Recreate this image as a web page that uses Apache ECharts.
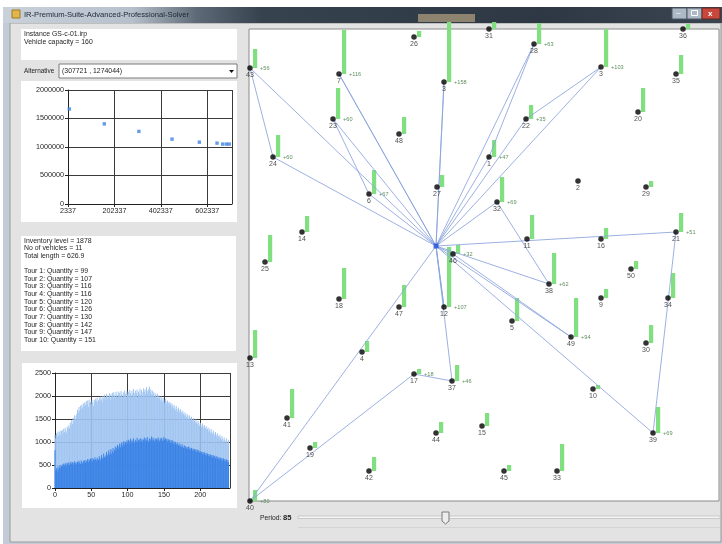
<!DOCTYPE html>
<html><head><meta charset="utf-8">
<script src="https://cdn.jsdelivr.net/npm/echarts@6/dist/echarts.min.js"></script>
<style>html,body{margin:0;padding:0;background:#fff;}#c{width:722px;height:544px;}</style>
</head><body><div id="c"></div>
<script>
// ---------- data ----------
const paretoX = [8000, 158800, 307721, 450600, 568300, 644500, 669000, 685000, 697000];
const paretoY = [1667000, 1406000, 1274044, 1138000, 1085000, 1068000, 1051000, 1051000, 1051000];

const histLight = [
1150,1080,1190,1120,1230,1160,1210,1250,1140,1240,
1260,1180,1290,1220,1310,1250,1200,1330,1280,1360,
1300,1420,1350,1480,1390,1520,1440,1580,1500,1560,
1610,1700,1640,1760,1680,1790,1720,1810,1750,1840,
1780,1860,1800,1890,1830,1900,1760,1920,1850,1880,
1820,1900,1850,1780,1920,1870,1940,1890,1960,1840,
1910,1970,1880,1990,1930,1860,2000,1950,2030,1910,
1980,2050,1940,2010,1970,2060,1920,2040,1990,2070,
1950,2080,2010,1960,2090,2030,1980,2100,2020,2070,
1990,2110,2040,1970,2080,2010,2120,2050,1980,2100,
2030,2090,2000,2130,2060,1990,2110,2040,2150,2070,
2010,2120,2060,2140,1980,2100,2050,2160,2020,2130,
2080,2000,2170,2090,2140,2030,2190,2110,2060,2150,
2200,2090,2140,2040,2120,2010,2080,1990,2060,2020,
1970,2050,1940,2010,1960,1900,1990,1930,1870,1960,
1910,1850,1940,1880,1820,1900,1860,1790,1870,1830,
1760,1840,1790,1730,1810,1750,1690,1780,1720,1660,
1750,1690,1630,1710,1650,1600,1680,1620,1570,1640,
1590,1530,1610,1560,1500,1580,1520,1470,1550,1490,
1440,1520,1460,1410,1490,1430,1380,1460,1400,1350,
1420,1370,1320,1400,1340,1290,1370,1310,1260,1340,
1280,1230,1310,1250,1200,1280,1220,1170,1250,1190,
1140,1220,1160,1110,1190,1130,1080,1160,1100,1050,
1130,1070,1020,1100,1040,990,1080,1010,960,1050];
const histDark = [
820,380,430,360,470,410,450,500,440,480,
510,470,530,490,520,550,480,540,510,560,
500,540,570,520,560,490,550,580,530,560,
510,570,540,590,550,520,600,560,530,590,
570,610,550,600,580,630,560,620,590,640,
600,650,580,630,610,670,620,590,660,630,
610,690,640,600,720,660,630,750,680,650,
710,780,690,740,820,720,770,850,740,800,
870,760,830,900,810,880,940,850,910,970,
880,950,1000,910,980,1020,940,1000,960,1030,
990,1050,960,1020,1070,980,1040,1000,1080,1010,
970,1050,1010,1090,990,1040,1060,1000,1080,1020,
1060,990,1050,1100,1010,1070,1030,1110,1040,1000,
1080,1020,1060,1120,1030,1090,1050,1010,1080,1040,
1070,1030,1100,1050,1010,1080,1040,1090,1020,1060,
1110,1040,1080,1030,1070,1010,1060,1020,1050,990,
1040,980,1030,970,1010,950,1000,960,930,990,
940,910,970,920,890,950,900,870,930,880,
910,860,890,850,900,840,880,830,870,820,
860,810,850,800,840,790,830,780,820,770,
800,760,790,740,780,730,770,720,760,710,
750,700,740,690,730,680,720,670,710,660,
700,650,690,640,680,630,670,620,660,610,
650,600,640,590,630,580,620,570,610,560];

// map customers (key, x, y in map units; stock bar height; delivered quantity)
const customerKeys  = ['43','7','26','3a','23','48','24','31','28','36','35','20','22','1','3b','6','27','14','25','18','47','12','46','4','13','2','29','32','11','16','21','50','38','9','34','5','49','30','17','37','41','44','15','19','42','40','10','39','45','33'];
const customerX     = [1,90,165,195,84,150,24,240,285,434,427,389,277,240,352,120,188,53,16,90,150,195,204,113,1,329,397,248,278,352,427,382,300,352,419,263,322,397,165,203,38,187,233,61,120,1,344,404,255,308];
const customerY     = [39,45,8,53,90,105,128,0,15,0,45,83,90,128,38,165,158,203,233,270,278,278,225,323,329,152,158,173,210,210,203,240,255,269,269,292,308,314,345,352,389,404,397,419,442,472,360,404,442,442];
const customerStock = [19,44,6,60,31,17,22,7,21,5,19,24,14,17,38,24,12,16,27,31,22,60,9,11,28,0,6,25,24,11,19,8,31,9,25,23,39,18,5,16,29,11,13,6,14,11,4,26,6,27];
const customerDelivery = [56,116,0,158,60,0,60,0,63,0,0,0,35,47,103,67,0,0,0,0,0,107,32,0,0,0,0,69,0,0,51,0,62,0,0,0,94,0,18,46,0,0,0,0,0,80,0,69,0,0];
const depotXY = [187, 217];
const tours = [['43','24'],['7'],['23','6'],['3a'],['28','1'],['3b','22'],['32','38'],['21','39'],['46','49'],['12'],['37','17','40']];

const headerLines = ['Instance GS-c-01.irp', 'Vehicle capacity = 160'];
const alternativeText = '(307721 , 1274044)';
const infoLines = ['Inventory level = 1878', 'No of vehicles = 11', 'Total length = 626.9'];
const tourQuantities = [99,107,116,116,120,126,130,142,147,151];
const periodValue = 85;

// ---------- drawing ----------
const F = '"Liberation Sans", Arial, sans-serif';
const chart = echarts.init(document.getElementById('c'), null, {width:722, height:544});

function R(x,y,w,h,fill,stroke,z,lw){return {type:'rect',shape:{x,y,width:w,height:h},style:{fill,stroke:stroke||null,lineWidth:stroke?(lw||1):0},z:(z===undefined?-10:z),silent:true};}
function T(x,y,text,o){return {type:'text',x,y,z:20,silent:true,style:Object.assign({text,fill:'#1e1e1e',fontSize:7.2,fontFamily:F,verticalAlign:'middle',align:'left'},o||{})};}

const G = [];
// window frame
G.push(R(3,7,719,537,'#c3ccd6',null,-20));
G.push(R(10,23,711,519,'#e3e3e3','#9a9a9a',-19));
// title bar
G.push(R(3,7,719,16,{type:'linear',x:0,y:0,x2:1,y2:0,colorStops:[{offset:0,color:'#c9d1da'},{offset:0.18,color:'#b6c0cc'},{offset:0.27,color:'#5d6976'},{offset:0.36,color:'#36424e'},{offset:0.75,color:'#2d3844'},{offset:1,color:'#3a4551'}]},null,-18));
G.push(R(418,14,57,8,'#8d836f',null,-17));
G.push(R(12,10,8,8,'#e2b64c','#a07a20',-17));
G.push(T(24,15,'IR-Premium-Suite-Advanced-Professional-Solver',{fill:'#1b2633',fontSize:7.6}));
G.push(R(672,8,15,11,'#aeb9c6','#4d5966',-16));
G.push(R(687,8,15,11,'#aeb9c6','#4d5966',-16));
G.push(R(702,8,18,11,'#c8463b','#5a2a26',-16));
G.push(T(676,13,'–',{fill:'#fff',fontSize:8}));
G.push(R(691.5,10.5,6,5,null,'#ffffff',-15));
G.push(T(708,13.5,'x',{fill:'#fff',fontSize:8,fontWeight:'bold'}));
// left panels
G.push(R(21,29,216,31,'#ffffff'));
headerLines.forEach((s,i)=>G.push(T(24,34.5+i*8,s,{fontSize:6.9})));
G.push(T(24,71,'Alternative',{fontSize:6.4}));
G.push(R(59,64,178,14,'#ffffff','#7d7d7d'));
G.push(T(62,71,alternativeText,{fontSize:6.9}));
G.push({type:'polygon',z:20,silent:true,shape:{points:[[229,70],[234,70],[231.5,73]]},style:{fill:'#111'}});
G.push(R(21,81,216,141,'#ffffff'));
G.push(R(21,236,215,115,'#ffffff'));
infoLines.forEach((s,i)=>G.push(T(24,241+i*7.5,s,{fontSize:6.9})));
tourQuantities.forEach((q,i)=>G.push(T(24,271+i*7.67,'Tour '+(i+1)+': Quantity = '+q,{fontSize:6.9})));
G.push(R(22,363,215,145,'#ffffff'));
// map background
G.push(R(249,29,470,472,'#ffffff','#8a8a8a'));
// period slider
G.push(T(260,518,'Period:',{fontSize:6.8}));
G.push(T(283,518,String(periodValue),{fontSize:7.6,fontWeight:'bold'}));
G.push(R(298,516,422,2.5,'#f4f4f4','#c9c9c9'));
G.push(R(298,527,422,1,'#d4d4d4'));
G.push({type:'polygon',z:21,silent:true,shape:{points:[[442,512],[449,512],[449,521],[445.5,524],[442,521]]},style:{fill:'#ececec',stroke:'#7a7a7a',lineWidth:1}});

const keyIndex = {}; customerKeys.forEach((k,i)=>keyIndex[k]=i);
const coordOf = k => [customerX[keyIndex[k]], customerY[keyIndex[k]]];

const axisTxt = {fontSize:7.2,color:'#1e1e1e',fontFamily:F,formatter:v=>String(v)};
const darkLine = {lineStyle:{color:'#3a3a3a',width:1}};

const series = [];
// pareto scatter
series.push({type:'scatter',xAxisIndex:0,yAxisIndex:0,symbol:'rect',symbolSize:3.4,itemStyle:{color:'#3f82e3'},data:paretoX.map((x,i)=>[x,paretoY[i]]),silent:true});
// histogram
series.push({type:'bar',xAxisIndex:1,yAxisIndex:1,barWidth:0.45,barGap:'-100%',itemStyle:{color:'#9fc4f1'},data:histLight.map((v,i)=>[i,v]),silent:true,z:2});
series.push({type:'bar',xAxisIndex:1,yAxisIndex:1,barWidth:0.55,barGap:'-100%',itemStyle:{color:'#3a82e6'},data:histDark.map((v,i)=>[i,v]),silent:true,z:3});
// stock bars + delivered labels
series.push({type:'custom',xAxisIndex:2,yAxisIndex:2,clip:false,silent:true,z:3,
  data:customerKeys.map((k,i)=>[customerX[i],customerY[i],customerStock[i],customerDelivery[i]]),
  renderItem:(params,api)=>{
    const x=api.value(0),y=api.value(1),h=api.value(2),d=api.value(3);
    const p=api.coord([x,y]); const t=api.coord([x,y-h]);
    const ch=[];
    if(h>0) ch.push({type:'rect',shape:{x:p[0]+3,y:t[1],width:4.2,height:p[1]-t[1]},style:{fill:'#80e080'}});
    if(d>0) ch.push({type:'text',x:p[0]+10,y:p[1]+0.5,style:{text:'+'+d,fill:'#5d8f5d',fontSize:5.6,fontFamily:F,verticalAlign:'middle'}});
    return {type:'group',children:ch};
  }});
// tours
tours.forEach(t=>{
  series.push({type:'line',xAxisIndex:2,yAxisIndex:2,symbol:'none',silent:true,z:4,
    lineStyle:{color:'#8aa3dd',width:0.85},
    data:[depotXY].concat(t.map(coordOf)).concat([depotXY])});
});
// customers
series.push({type:'scatter',xAxisIndex:2,yAxisIndex:2,symbolSize:5.5,clip:false,silent:true,z:5,
  itemStyle:{color:'#000'},
  label:{show:true,position:'bottom',distance:0.5,formatter:'{b}',fontSize:7,color:'#222',fontFamily:F},
  data:customerKeys.map((k,i)=>({name:k.replace(/[ab]$/,''),value:[customerX[i],customerY[i]]}))});
// depot
series.push({type:'scatter',xAxisIndex:2,yAxisIndex:2,symbol:'rect',symbolSize:5,silent:true,z:6,itemStyle:{color:'#1f4fe0'},data:[depotXY]});

chart.setOption({
  animation:false,
  graphic:G,
  grid:[
    {left:68,top:90,width:164,height:114},
    {left:55,top:373,width:175,height:115},
    {left:249,top:29,width:470,height:472}
  ],
  xAxis:[
    {gridIndex:0,type:'value',min:2337,max:709000,interval:200000,axisLine:{lineStyle:{color:'#222'}},axisTick:{show:true,length:3,lineStyle:{color:'#222'}},axisLabel:Object.assign({margin:4,showMaxLabel:false},axisTxt),splitLine:Object.assign({show:true},darkLine)},
    {gridIndex:1,type:'value',min:0,max:241,interval:50,axisLine:{lineStyle:{color:'#222'}},axisTick:{show:true,length:3,lineStyle:{color:'#222'}},axisLabel:Object.assign({margin:4,showMaxLabel:false},axisTxt),splitLine:Object.assign({show:true},darkLine)},
    {gridIndex:2,type:'value',min:0,max:470,show:false}
  ],
  yAxis:[
    {gridIndex:0,type:'value',min:0,max:2000000,interval:500000,axisLine:{show:true,lineStyle:{color:'#222'}},axisTick:{show:true,length:3,lineStyle:{color:'#222'}},axisLabel:Object.assign({margin:4},axisTxt),splitLine:Object.assign({show:true},darkLine)},
    {gridIndex:1,type:'value',min:0,max:2500,interval:500,axisLine:{show:true,lineStyle:{color:'#222'}},axisTick:{show:true,length:3,lineStyle:{color:'#222'}},axisLabel:Object.assign({margin:4},axisTxt),splitLine:Object.assign({show:true},darkLine)},
    {gridIndex:2,type:'value',min:0,max:472,inverse:true,show:false}
  ],
  series
});
</script></body></html>
